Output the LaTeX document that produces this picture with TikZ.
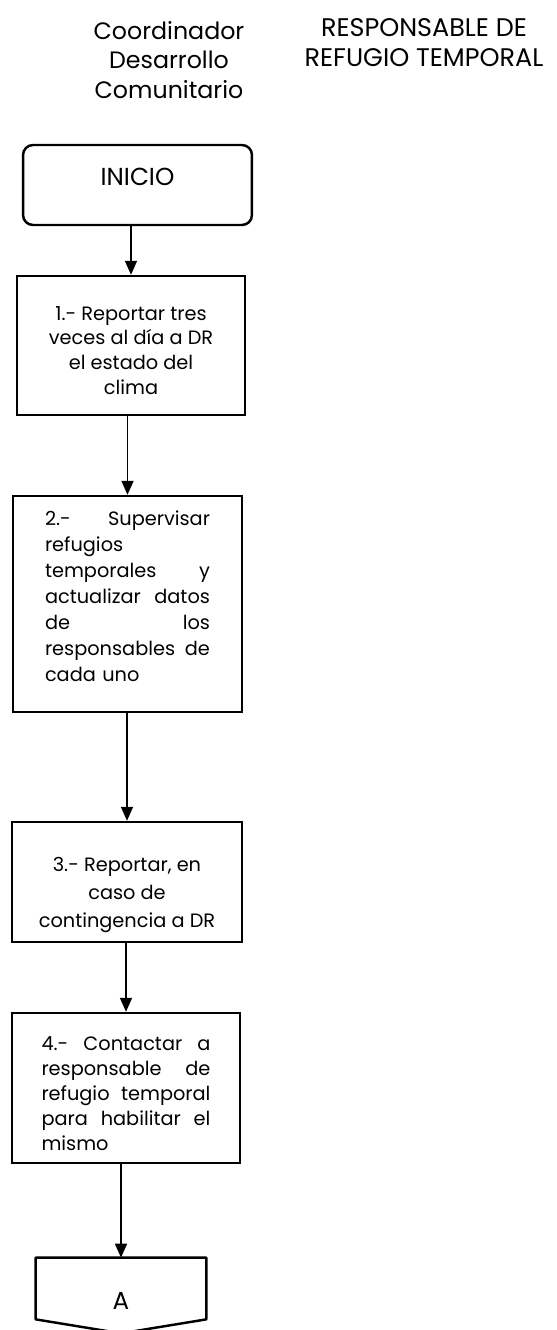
\documentclass[tikz,border=0pt]{standalone}
\usepackage{fontspec}
\setmainfont{Poppins}
\usetikzlibrary{arrows.meta}

\begin{document}
\begin{tikzpicture}[x=0.02cm, y=-0.02cm]

\tikzstyle{every node} = [font=\fontsize{11}{13.5}\selectfont]
\tikzstyle{caja} = [rectangle, draw, line width=1.4pt, inner sep=0pt]
\tikzstyle{flecha} = [-{Triangle[length=0.28cm, width=0.24cm]}, line width=0.9pt]

\useasboundingbox (0,0) rectangle (557,1330);

% encabezados de columna
\node[align=center, font=\fontsize{13.5}{17}\selectfont] (coord) at (169,60) {Coordinador\\Desarrollo\\Comunitario};
\node[align=center, font=\fontsize{14.5}{17}\selectfont] (resp) at (424,43) {RESPONSABLE DE\\REFUGIO TEMPORAL};

\node[caja, rounded corners=0.2cm, text height=0.03cm, minimum width=4.58cm, minimum height=1.6cm, font=\fontsize{14}{17}\selectfont] (i) at (137.5,185) {INICIO};

\node[caja, align=center, text height=1.95cm, minimum width=4.56cm, minimum height=2.78cm, font=\fontsize{11}{14}\selectfont] (r) at (131,345.5)
  {1.- Reportar tres\\veces al día a DR\\el estado del\\clima};

\node[caja, align=left, text width=3.3cm, text height=-0.4cm, minimum width=4.58cm, minimum height=4.32cm, font=\fontsize{11}{14.8}\selectfont] (s) at (127.5,604)
  {2.-\hfill Supervisar\\refugios\\temporales\hfill y\\actualizar\hfill datos\\de\hfill los\\responsables\hfill de\\cada uno};

\node[caja, align=center, text height=1.91cm, minimum width=4.6cm, minimum height=2.4cm, font=\fontsize{11}{15.9}\selectfont] (c) at (127,882)
  {3.- Reportar, en\\caso de\\contingencia a DR};

\node[caja, align=left, text width=3.38cm, text height=0.51cm, minimum width=4.56cm, minimum height=3cm, font=\fontsize{11}{14.2}\selectfont] (h) at (126,1088)
  {4.-\hfill Contactar\hfill a\\responsable\hfill de\\refugio\hfill temporal\\para\hfill habilitar\hfill el\\mismo};

% conector fuera de pagina
\node[inner sep=0pt, text height=0.82cm, minimum width=3.4cm, minimum height=1.22cm, font=\fontsize{14}{17}\selectfont] (a) at (121,1288.5) {A};
\draw[line width=1.4pt, line join=round] (a.north west) -- (a.north east) -- (a.south east)
  -- ([yshift=-0.28cm]a.south) -- (a.south west) -- cycle;

\draw[flecha] (r.north |- i.south) -- (r.north);
\draw[flecha] (s.north |- r.south) -- (s.north);
\draw[flecha] (c.north |- s.south) -- (c.north);
\draw[flecha] (h.north |- c.south) -- (h.north);
\draw[flecha] (a.north |- h.south) -- (a.north);

\end{tikzpicture}
\end{document}
